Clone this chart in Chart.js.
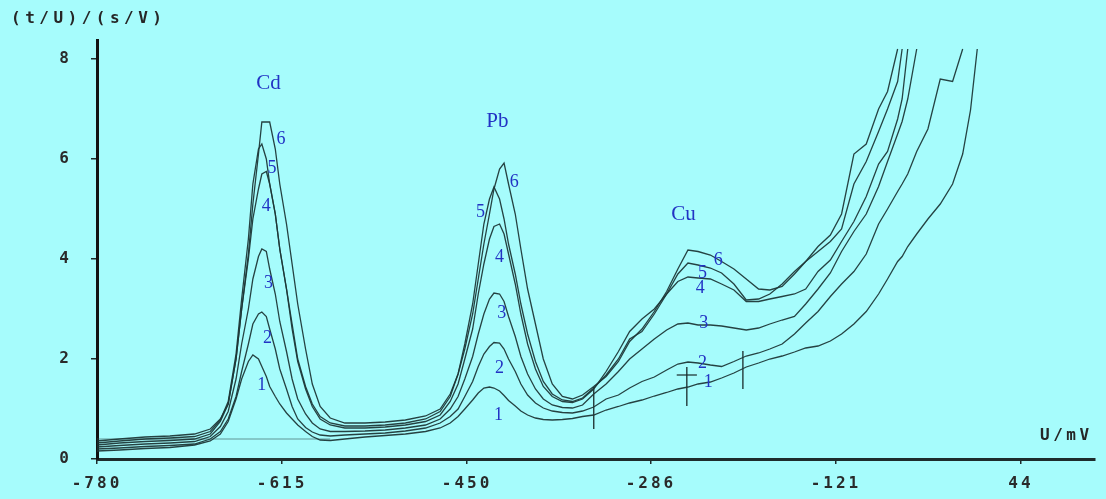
<!DOCTYPE html>
<html>
<head>
<meta charset="utf-8">
<script src="https://cdn.jsdelivr.net/npm/chart.js@4.4.1/dist/chart.umd.min.js"></script>
<style>
html,body{margin:0;padding:0;background:#a6fcfc;overflow:hidden;}
canvas{display:block;}
</style>
</head>
<body>
<canvas id="c" width="1106" height="499"></canvas>
<script>
// Potential (mV), shared by all six stripping curves
const potential = [-780,-760,-737,-715,-693,
  -679,-670,-663,-656,-651,-645,-641,-636,-633,-629,-626,-621,-617,-611,-606,-601,-594,-588,-581,-572,-559,
  -541,-523,-505,-487,-474,
  -465,-458,-452,-445,-440,-435,-430,-426,-421,-417,-413,-407,-402,-396,-389,-382,-374,-365,-356,-347,
  -337,-326,-315,-305,-294,-283,-272,-262,-253,-244,-233,-223,-212,-201,-190,-180,
  -169,-158,-148,-137,-126,-116,-105,-94,-83,-75,-66,-62,-57,-49,-39,-28,-17,-8,-1,5];

const curve1 = [0.16,0.18,0.21,0.23,0.28,
  0.36,0.5,0.75,1.2,1.6,1.95,2.08,2.0,1.85,1.65,1.45,1.25,1.1,0.92,0.8,0.68,0.55,0.45,0.38,0.37,0.4,
  0.44,0.47,0.5,0.55,0.62,
  0.72,0.85,1.0,1.18,1.32,1.42,1.44,1.42,1.36,1.27,1.17,1.06,0.96,0.88,0.82,0.79,0.78,0.79,0.81,0.85,
  0.88,0.98,1.05,1.12,1.18,1.26,1.33,1.4,1.44,1.5,1.54,1.62,1.72,1.84,1.92,2.0,
  2.06,2.14,2.22,2.26,2.36,2.5,2.7,2.95,3.3,3.6,3.95,4.05,4.25,4.5,4.8,5.1,5.5,6.1,6.98,8.2];

const curve2 = [0.2,0.22,0.25,0.27,0.3,
  0.4,0.55,0.8,1.25,1.75,2.3,2.7,2.9,2.94,2.85,2.6,2.2,1.8,1.4,1.05,0.8,0.63,0.54,0.48,0.46,0.48,
  0.5,0.52,0.56,0.62,0.72,
  0.85,1.0,1.25,1.55,1.85,2.1,2.25,2.33,2.32,2.2,2.0,1.75,1.5,1.28,1.12,1.02,0.96,0.93,0.92,0.96,
  1.04,1.2,1.28,1.42,1.55,1.64,1.78,1.9,1.94,1.92,1.88,1.85,1.95,2.06,2.12,2.2,
  2.3,2.5,2.72,2.95,3.25,3.5,3.75,4.1,4.7,5.0,5.35,5.5,5.7,6.15,6.6,7.6,7.55,8.2,null,null];

const curve3 = [0.24,0.27,0.3,0.32,0.35,
  0.45,0.65,0.95,1.6,2.3,3.0,3.6,4.05,4.2,4.15,3.8,3.3,2.75,2.15,1.6,1.2,0.9,0.72,0.6,0.55,0.55,
  0.56,0.58,0.62,0.68,0.8,
  1.0,1.25,1.6,2.05,2.5,2.9,3.2,3.32,3.3,3.15,2.85,2.45,2.05,1.7,1.4,1.2,1.08,1.03,1.02,1.08,
  1.3,1.5,1.75,2.0,2.2,2.4,2.58,2.7,2.72,2.68,2.68,2.66,2.62,2.58,2.62,2.7,
  2.78,2.85,3.1,3.4,3.72,4.15,4.55,4.9,5.45,5.95,6.5,6.75,7.2,8.2,null,null,null,null,null,null];

const curve4 = [0.28,0.32,0.35,0.37,0.4,
  0.5,0.75,1.1,2.0,3.0,4.0,4.8,5.4,5.7,5.75,5.5,4.9,4.2,3.4,2.6,1.95,1.4,1.05,0.8,0.68,0.62,
  0.62,0.64,0.68,0.75,0.88,
  1.15,1.5,2.0,2.6,3.3,3.9,4.4,4.65,4.7,4.5,4.1,3.5,2.9,2.3,1.8,1.45,1.25,1.15,1.13,1.2,
  1.4,1.75,2.15,2.55,2.8,3.0,3.3,3.55,3.64,3.62,3.6,3.5,3.38,3.15,3.15,3.2,
  3.25,3.3,3.4,3.75,3.98,4.35,4.75,5.25,5.9,6.15,6.8,7.2,8.2,null,null,null,null,null,null,null];

const curve5 = [0.32,0.36,0.4,0.42,0.45,
  0.55,0.78,1.15,2.1,3.2,4.4,5.5,6.2,6.3,6.0,5.5,4.9,4.2,3.4,2.7,2.0,1.45,1.1,0.85,0.72,0.66,
  0.66,0.68,0.72,0.8,0.95,
  1.25,1.7,2.3,3.1,3.9,4.7,5.2,5.44,5.2,4.8,4.3,3.7,3.1,2.5,1.95,1.55,1.3,1.18,1.15,1.22,
  1.42,1.68,2.0,2.4,2.55,2.9,3.3,3.7,3.92,3.88,3.82,3.72,3.5,3.18,3.2,3.3,
  3.5,3.75,3.95,4.15,4.35,4.6,5.5,5.95,6.55,7.0,7.55,8.2,null,null,null,null,null,null,null,null];

const curve6 = [0.36,0.4,0.44,0.46,0.5,
  0.6,0.8,1.1,2.0,3.0,4.1,5.1,6.1,6.74,6.74,6.74,6.2,5.5,4.7,3.9,3.1,2.2,1.5,1.05,0.82,0.72,
  0.72,0.74,0.78,0.86,1.0,
  1.3,1.7,2.2,2.9,3.6,4.3,4.9,5.4,5.8,5.92,5.5,4.9,4.2,3.4,2.7,2.0,1.5,1.25,1.2,1.28,
  1.45,1.65,1.95,2.35,2.6,2.95,3.35,3.8,4.18,4.15,4.08,3.95,3.8,3.6,3.4,3.38,
  3.45,3.7,3.95,4.25,4.48,4.9,6.1,6.3,7.0,7.35,8.2,null,null,null,null,null,null,null,null,null];

// Axis ticks
const xTickValues = [-780, -615, -450, -286, -121, 44];
const yTickValues = [0, 2, 4, 6, 8];

// Integration markers and baseline
const markerPotential = [-337, -254, -204];
const markerLow = [0.6, 1.06, 1.4];
const markerHigh = [1.44, 1.84, 2.16];
const crossbarPotential = [-263, -245];
const crossbarLevel = 1.68;
const baselinePotential = [-780, -572];
const baselineLevel = 0.4;

// Peak names and curve numbers (data coordinates)
const peakNames = ['Cd', 'Pb', 'Cu'];
const peakNamePotential = [-627, -423, -257];
const peakNameLevel = [7.52, 6.76, 4.9];
const curveNumbers = ['1', '2', '3', '4', '5', '6'];
const cdNumberPotential = [-633, -628, -627, -629, -624, -616];
const cdNumberLevel = [1.48, 2.42, 3.52, 5.06, 5.82, 6.4];
const pbNumberPotential = [-422, -421, -419, -421, -438, -408];
const pbNumberLevel = [0.88, 1.82, 2.92, 4.04, 4.94, 5.54];
const cuNumberPotential = [-235, -240, -239, -242, -240, -226];
const cuNumberLevel = [1.54, 1.92, 2.72, 3.42, 3.72, 3.98];

const lineColor = 'rgba(30,56,56,0.95)';
const curves = [curve1, curve2, curve3, curve4, curve5, curve6];

const datasets = curves.map((ys, i) => ({
  label: 'Curve ' + (i + 1),
  data: potential.map((x, j) => ({ x: x, y: ys[j] })),
  borderColor: lineColor,
  borderWidth: 1.3,
  pointRadius: 0,
  tension: 0,
  fill: false,
  spanGaps: false
}));

datasets.push({
  label: 'Baseline',
  data: baselinePotential.map(x => ({ x: x, y: baselineLevel })),
  borderColor: 'rgba(50,80,80,0.75)',
  borderWidth: 0.8,
  pointRadius: 0
});

markerPotential.forEach((x, i) => {
  datasets.push({
    label: 'Marker ' + (i + 1),
    data: [{ x: x, y: markerLow[i] }, { x: x, y: markerHigh[i] }],
    borderColor: '#1a2a2a',
    borderWidth: 1.3,
    pointRadius: 0
  });
});

datasets.push({
  label: 'Crossbar',
  data: crossbarPotential.map(x => ({ x: x, y: crossbarLevel })),
  borderColor: '#1a2a2a',
  borderWidth: 1.2,
  pointRadius: 0
});

const tickFont = { family: '"DejaVu Sans Mono", "Liberation Mono", monospace', size: 16, weight: 'bold' };

const textPlugin = {
  id: 'textPlugin',
  beforeDraw(chart) {
    chart.ctx.letterSpacing = '3px';
  },
  afterDraw(chart) {
    const ctx = chart.ctx;
    const xs = chart.scales.x, ys = chart.scales.y;
    ctx.save();
    // axis titles
    ctx.fillStyle = '#262626';
    ctx.font = 'bold 16px "DejaVu Sans Mono", monospace';
    ctx.textBaseline = 'middle';
    ctx.textAlign = 'left';
    ctx.letterSpacing = '4.5px';
    ctx.fillText('(t/U)/(s/V)', 11, 19);
    ctx.letterSpacing = '3.5px';
    ctx.fillText('U/mV', 1040, 436);

    // blue annotations
    ctx.letterSpacing = '0px';
    ctx.fillStyle = '#2233c4';
    ctx.textAlign = 'center';
    ctx.font = '21px "Liberation Serif", "DejaVu Serif", serif';
    peakNames.forEach((t, i) => {
      ctx.fillText(t, xs.getPixelForValue(peakNamePotential[i]), ys.getPixelForValue(peakNameLevel[i]));
    });
    ctx.font = '18px "Liberation Serif", "DejaVu Serif", serif';
    const groups = [[cdNumberPotential, cdNumberLevel], [pbNumberPotential, pbNumberLevel], [cuNumberPotential, cuNumberLevel]];
    groups.forEach(g => {
      curveNumbers.forEach((t, i) => {
        ctx.fillText(t, xs.getPixelForValue(g[0][i]), ys.getPixelForValue(g[1][i]));
      });
    });
    ctx.restore();
  }
};

new Chart(document.getElementById('c'), {
  type: 'line',
  data: { datasets: datasets },
  plugins: [textPlugin],
  options: {
    responsive: false,
    animation: false,
    devicePixelRatio: 1,
    layout: { padding: { top: 40, right: 11, bottom: 0, left: 0 } },
    plugins: { legend: { display: false }, tooltip: { enabled: false }, title: { display: false } },
    scales: {
      x: {
        type: 'linear',
        min: -780,
        max: 110,
        afterBuildTicks: s => { s.ticks = xTickValues.map(v => ({ value: v })); },
        afterFit: s => { s.height = 40; },
        ticks: {
          font: tickFont, color: '#2a2a2a', padding: 10,
          autoSkip: false, maxRotation: 0, minRotation: 0,
          callback: v => String(v)
        },
        grid: { drawOnChartArea: false, drawTicks: true, tickLength: 5, color: '#1e2c2c', lineWidth: 1.5 },
        border: { display: true, color: '#1e2c2c', width: 3, dash: [6, 2] }
      },
      y: {
        type: 'linear',
        min: 0,
        max: 8.38,
        afterBuildTicks: s => { s.ticks = yTickValues.map(v => ({ value: v })); },
        afterFit: s => { s.width = 97; },
        ticks: { font: tickFont, color: '#2a2a2a', padding: 19, callback: v => String(v) },
        grid: { drawOnChartArea: false, drawTicks: true, tickLength: 6, color: '#1e2c2c', lineWidth: 1.5 },
        border: { display: true, color: '#111', width: 3 }
      }
    }
  }
});
</script>
</body>
</html>
